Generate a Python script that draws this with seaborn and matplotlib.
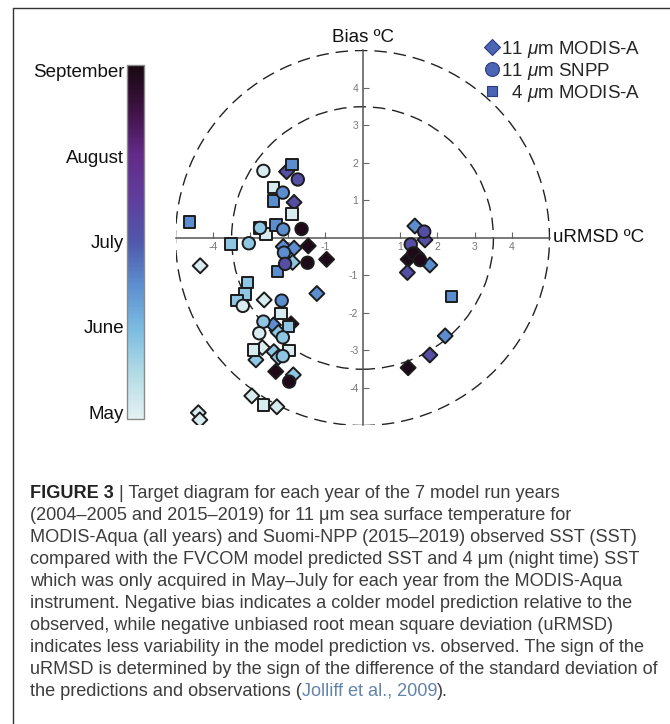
import numpy as np
import pandas as pd
import matplotlib
matplotlib.use("Agg")
import matplotlib.pyplot as plt
import seaborn as sns
from matplotlib.colors import LinearSegmentedColormap, Normalize
from matplotlib.cm import ScalarMappable
from matplotlib.lines import Line2D
from matplotlib.patches import Circle

sns.set_theme(style="white")
plt.rcParams['font.family'] = ['Liberation Sans', 'DejaVu Sans']
plt.rcParams['mathtext.fontset'] = 'custom'
plt.rcParams['mathtext.rm'] = 'Liberation Sans'
plt.rcParams['mathtext.it'] = 'Liberation Sans:italic'

# ---- data: unbiased RMSD (x), bias (y), month of the match-up (5=May ... 9=September)
modis11_urmsd = [-2.03, -1.83, -4.34, -2.12, -1.83, -1.45, -0.96, -1.87, -1.22, -2.63,
                 -2.38, -1.91, -2.25, -2.68, -2.37, -2.85, -2.25, -2.32, -1.85, -2.96,
                 -2.29, -4.39, -4.35, 1.40, 1.67, 1.22, 1.45, 1.80, 1.20, 2.21, 1.80, 1.22]
modis11_bias = [1.77, 0.95, -0.74, -0.23, -0.27, -0.21, -0.57, -0.65, -1.48, -1.65,
                -2.32, -2.29, -2.52, -2.92, -3.03, -3.25, -3.18, -3.56, -3.65, -4.21,
                -4.50, -4.66, -4.85, 0.32, -0.05, -0.57, -0.45, -0.72, -0.92, -2.61, -3.12, -3.46]
modis11_month = [7.2, 7.2, 5.05, 6.5, 6.5, 9.0, 9.0, 5.8, 6.5, 5.05,
                 6.5, 9.0, 5.8, 5.05, 5.8, 5.8, 5.8, 9.0, 5.8, 5.05,
                 5.05, 5.05, 5.05, 6.5, 7.2, 9.0, 9.0, 6.5, 7.2, 6.5, 7.2, 9.0]

snpp11_urmsd = [-2.65, -1.73, -2.13, -2.74, -2.12, -1.63, -3.04, -2.10, -2.07, -1.47,
                -3.20, -2.16, -2.65, -2.76, -2.13, -2.13, -1.96, 1.65, 1.29, 1.36, 1.54]
snpp11_bias = [1.79, 1.56, 1.21, 0.27, 0.23, 0.24, -0.14, -0.39, -0.69, -0.66,
               -1.81, -1.67, -2.23, -2.54, -2.65, -3.15, -3.83, 0.17, -0.17, -0.41, -0.59]
snpp11_month = [5.05, 7.2, 6.5, 5.8, 6.5, 9.0, 5.8, 6.5, 7.2, 9.0,
                5.05, 6.5, 5.8, 5.05, 5.8, 5.8, 9.0, 7.2, 7.2, 9.0, 9.0]

modis4_urmsd = [-4.63, -1.89, -2.38, -2.38, -1.89, -2.74, -2.58, -2.31, -3.52, -2.28,
                -3.07, -3.14, -3.36, -2.18, -1.98, -2.92, -1.96, -2.65, 2.38]
modis4_bias = [0.43, 1.96, 1.35, 0.99, 0.64, 0.27, 0.11, 0.35, -0.16, -0.90,
               -1.19, -1.49, -1.67, -2.01, -2.36, -2.99, -3.00, -4.45, -1.56]
modis4_month = [6.5, 6.5, 5.05, 6.5, 5.05, 5.8, 5.05, 6.5, 5.8, 6.5,
                5.8, 5.8, 5.8, 5.05, 5.8, 5.05, 5.05, 5.05, 6.5]

sensor_names = ["11 $\\mathit{\\mu}$m MODIS-A", "11 $\\mathit{\\mu}$m SNPP", "  4 $\\mathit{\\mu}$m MODIS-A"]
month_ticks = [5, 6, 7, 8, 9]
month_labels = ["May", "June", "July", "August", "September"]
axis_ticks = [-4, -3, -2, -1, 1, 2, 3, 4]
circle_radii = [3.5, 5.0]

caption_lines = [
    "(2004\u20132005 and 2015\u20132019) for 11 \u03bcm sea surface temperature for",
    "MODIS-Aqua (all years) and Suomi-NPP (2015\u20132019) observed SST (SST)",
    "compared with the FVCOM model predicted SST and 4 \u03bcm (night time) SST",
    "which was only acquired in May\u2013July for each year from the MODIS-Aqua",
    "instrument. Negative bias indicates a colder model prediction relative to the",
    "observed, while negative unbiased root mean square deviation (uRMSD)",
    "indicates less variability in the model prediction vs. observed. The sign of the",
    "uRMSD is determined by the sign of the difference of the standard deviation of",
]

frames = []
for name, xs, ys, ms in [(sensor_names[0], modis11_urmsd, modis11_bias, modis11_month),
                         (sensor_names[1], snpp11_urmsd, snpp11_bias, snpp11_month),
                         (sensor_names[2], modis4_urmsd, modis4_bias, modis4_month)]:
    frames.append(pd.DataFrame({"urmsd": xs, "bias": ys, "month": ms, "sensor": name}))
df = pd.concat(frames, ignore_index=True)

season_cmap = LinearSegmentedColormap.from_list(
    "season",
    ["#e4f1f2", "#b3dbe6", "#7dbde2", "#5d8fd0", "#5058ab",
     "#603d9c", "#622a88", "#3e1244", "#180810"])
norm = Normalize(vmin=4.92, vmax=9.07)

fig = plt.figure(figsize=(6.70, 7.24), dpi=100)
W, H = 670.0, 724.0

# outer frame of the figure panel
fig.add_artist(Line2D([13 / W, 13 / W], [0, 1 - 8 / H], color="#333333", lw=1.0))
fig.add_artist(Line2D([13 / W, 1.0], [1 - 8 / H, 1 - 8 / H], color="#333333", lw=1.0))

# target diagram axes spanning -5..5 in both directions
ax = fig.add_axes([175.5 / W, 1 - 425.5 / H, 374 / W, 375 / H])
ax.set_xlim(-5, 5)
ax.set_ylim(-5, 5)
ax.set_facecolor("none")
for side in ["top", "right"]:
    ax.spines[side].set_visible(False)
for side in ["left", "bottom"]:
    ax.spines[side].set_position(("data", 0))
    ax.spines[side].set_color("#555555")
    ax.spines[side].set_linewidth(1.1)
    ax.spines[side].set_bounds(-5, 5)

for r in circle_radii:
    ax.add_patch(Circle((0, 0), r, fill=False, ls=(0, (9, 5)), lw=1.0,
                        ec="#222222", zorder=1))

marker_map = {sensor_names[0]: "D", sensor_names[1]: "o", sensor_names[2]: "s"}
size_map = {sensor_names[0]: 58, sensor_names[1]: 80, sensor_names[2]: 68}
for name in [sensor_names[0], sensor_names[2], sensor_names[1]]:
    sub = df[df["sensor"] == name]
    sns.scatterplot(data=sub, x="urmsd", y="bias", hue="month", palette=season_cmap,
                    hue_norm=norm, marker=marker_map[name], s=size_map[name],
                    edgecolor="#1c1c1c", linewidth=1.4, legend=False, ax=ax, zorder=3)

ax.set_xlabel("")
ax.set_ylabel("")
ax.set_xticks(axis_ticks)
ax.set_xticklabels([str(t) for t in axis_ticks])
ax.set_yticks(axis_ticks)
ax.set_yticklabels([str(t) for t in axis_ticks])
ax.tick_params(axis="both", direction="in", length=4, width=0.8, color="#666666",
               labelcolor="#777777", labelsize=7.5, pad=3)
ax.tick_params(axis="x", bottom=True)
ax.tick_params(axis="y", left=True)
ax.grid(False)

ax.text(0, 5.34, "Bias \u00baC", ha="center", va="center", fontsize=13.5, color="#111111")
ax.text(5.09, 0.02, "uRMSD \u00baC", ha="left", va="center", fontsize=13.5, color="#111111")

# legend of sensors
leg_color = "#4b64b4"
handles = [Line2D([], [], ls="", marker="D", ms=8, mfc=leg_color, mec="#2c3b82", mew=0.8),
           Line2D([], [], ls="", marker="o", ms=10, mfc=leg_color, mec="#2c3b82", mew=0.8),
           Line2D([], [], ls="", marker="s", ms=7, mfc=leg_color, mec="#2c3b82", mew=0.8)]
fig.legend(handles, sensor_names, loc="upper left", bbox_to_anchor=(486 / W, 1 - 39 / H),
           frameon=False, fontsize=13.5, handlelength=0.6, handletextpad=0.2,
           labelspacing=0.05, borderpad=0, borderaxespad=0)

# month colour bar
cax = fig.add_axes([127 / W, 1 - 419 / H, 17 / W, 354 / H])
cb = fig.colorbar(ScalarMappable(norm=norm, cmap=season_cmap), cax=cax, ticks=month_ticks)
cb.outline.set_edgecolor("#8a8a8a")
cb.outline.set_linewidth(1.0)
cax.yaxis.set_ticks_position("left")
cax.yaxis.set_label_position("left")
cax.set_yticklabels(month_labels)
cax.tick_params(axis="y", direction="in", length=3, width=0.8, color="#777777",
                labelsize=13.5, labelcolor="#111111", pad=2)

# caption
cap_size = 13.1
cap_color = "#3d3d3d"
x0 = 30 / W
line_step = 21.9
y_first = 494
t_bold = fig.text(x0, 1 - y_first / H, "FIGURE 3", fontsize=cap_size, weight="bold",
                  color="#222222", ha="left", va="center")
ax.annotate(" | Target diagram for each year of the 7 model run years", xy=(1, 0.5),
            xycoords=t_bold, ha="left", va="center", fontsize=cap_size, color=cap_color,
            annotation_clip=False)
for i, line in enumerate(caption_lines):
    fig.text(x0, 1 - (y_first + (i + 1) * line_step) / H, line, fontsize=cap_size,
             color=cap_color, ha="left", va="center")
t_last = fig.text(x0, 1 - (y_first + 9 * line_step) / H, "the predictions and observations (",
                  fontsize=cap_size, color=cap_color, ha="left", va="center")
t_ref = ax.annotate("Jolliff et al., 2009", xy=(1, 0.5), xycoords=t_last, ha="left",
                    va="center", fontsize=cap_size, color="#6384ab", annotation_clip=False)
ax.annotate(").", xy=(1, 0.5), xycoords=t_ref, ha="left", va="center",
            fontsize=cap_size, color=cap_color, annotation_clip=False)

fig.savefig("out.png", dpi=100)
